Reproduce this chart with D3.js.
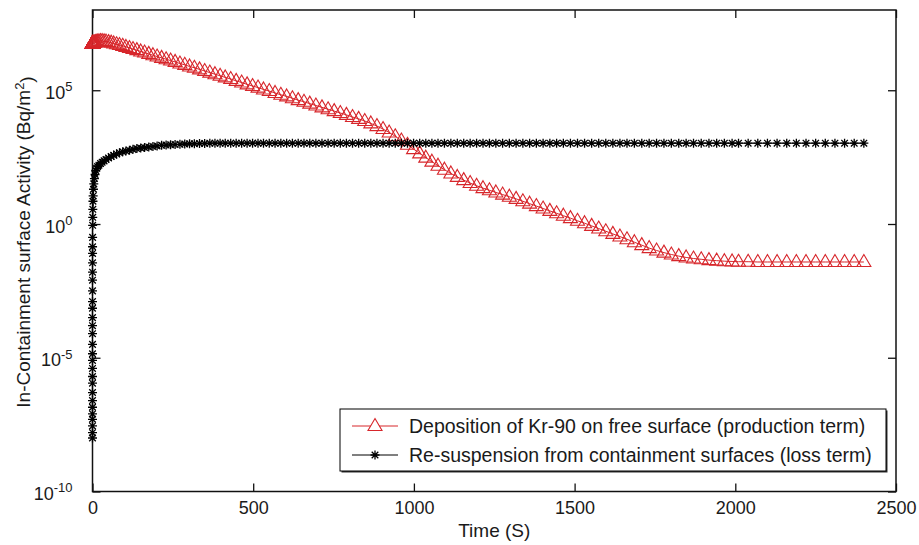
<!DOCTYPE html>
<html><head><meta charset="utf-8">
<script src="https://cdn.jsdelivr.net/npm/d3@7"></script>
<style>
html,body{margin:0;padding:0;background:#fff;}
svg{display:block;font-family:"Liberation Sans",Arial,sans-serif;}
</style></head>
<body>
<svg id="chart" width="919" height="545"></svg>
<script>
// Time (s) sample points
const times = [
  0.00001, 0.00002, 0.00004, 0.00007, 0.0001, 0.00015, 0.0002, 0.0003, 0.0005, 0.0007,
  0.001, 0.0015, 0.002, 0.003, 0.005, 0.007, 0.01, 0.015, 0.02, 0.03,
  0.05, 0.07, 0.1, 0.15, 0.2, 0.3, 0.5, 0.7, 1, 1.5,
  2, 3, 4, 6, 8, 10,
  13, 16, 20, 25, 30, 36, 42, 50, 58, 66,
  75, 84, 94, 104, 115, 126, 138, 150, 162, 175,
  188, 201, 215, 229, 243, 257, 272, 287, 302, 317,
  333, 349, 365, 381, 397, 413, 430, 447, 464, 481,
  498, 515, 532, 550, 568, 586, 604, 622, 640, 658,
  676, 695, 714, 733, 752, 771, 790, 809, 828, 847,
  866, 885, 904, 923, 942, 961, 980, 999, 1018, 1037,
  1056, 1075, 1095, 1115, 1135, 1155, 1175, 1195, 1215, 1235,
  1255, 1276, 1297, 1318, 1339, 1360, 1381, 1402, 1423, 1444,
  1465, 1487, 1509, 1531, 1553, 1575, 1597, 1619, 1641, 1663,
  1686, 1709, 1732, 1755, 1778, 1801, 1824, 1847, 1870, 1894,
  1918, 1942, 1966, 1990, 2010, 2040, 2070, 2100, 2130, 2160,
  2190, 2220, 2250, 2280, 2310, 2340, 2370, 2400
];
// log10 of activity (Bq/m^2), deposition of Kr-90 on free surface
const depositionLog10 = [
  6.75, 6.75, 6.75, 6.75, 6.75, 6.75, 6.75, 6.75, 6.75, 6.75,
  6.75, 6.75, 6.75, 6.75, 6.75, 6.75, 6.75, 6.75, 6.75, 6.75,
  6.75, 6.75, 6.75, 6.75, 6.75, 6.75, 6.75, 6.75, 6.75, 6.76,
  6.76, 6.77, 6.77, 6.78, 6.79, 6.80,
  6.81, 6.82, 6.83, 6.84, 6.84, 6.83, 6.82, 6.80, 6.78, 6.75,
  6.72, 6.69, 6.66, 6.62, 6.58, 6.54, 6.50, 6.45, 6.41, 6.36,
  6.31, 6.26, 6.21, 6.16, 6.11, 6.06, 6.00, 5.95, 5.89, 5.84,
  5.78, 5.72, 5.66, 5.60, 5.54, 5.48, 5.42, 5.35, 5.29, 5.22,
  5.16, 5.10, 5.03, 4.97, 4.90, 4.83, 4.77, 4.70, 4.63, 4.57,
  4.50, 4.43, 4.36, 4.29, 4.22, 4.15, 4.08, 4.00, 3.93, 3.85,
  3.76, 3.66, 3.55, 3.42, 3.28, 3.12, 2.96, 2.80, 2.64, 2.48,
  2.33, 2.18, 2.03, 1.89, 1.76, 1.64, 1.53, 1.43, 1.34, 1.26,
  1.18, 1.10, 1.02, 0.94, 0.85, 0.76, 0.67, 0.58, 0.49, 0.40,
  0.31, 0.22, 0.12, 0.03, -0.07, -0.17, -0.27, -0.37, -0.47, -0.57,
  -0.68, -0.79, -0.90, -0.99, -1.07, -1.14, -1.20, -1.25, -1.29, -1.32,
  -1.35, -1.37, -1.39, -1.40, -1.41, -1.41, -1.42, -1.42, -1.42, -1.42,
  -1.42, -1.42, -1.42, -1.42, -1.42, -1.42, -1.42, -1.42
];
// log10 of activity (Bq/m^2), re-suspension from containment surfaces
const resuspensionLog10 = [
  -8.0, -7.8, -7.55, -7.3, -7.1, -6.85, -6.6, -6.3, -5.95, -5.7,
  -5.4, -5.1, -4.85, -4.5, -4.1, -3.8, -3.5, -3.15, -2.9, -2.5,
  -2.1, -1.8, -1.45, -1.1, -0.85, -0.5, -0.05, 0.25, 0.55, 0.85,
  1.05, 1.3, 1.5, 1.7, 1.85, 2.0,
  2.08, 2.15, 2.20, 2.26, 2.31, 2.36, 2.41, 2.47, 2.52, 2.57,
  2.62, 2.66, 2.70, 2.73, 2.76, 2.79, 2.82, 2.84, 2.86, 2.88,
  2.90, 2.92, 2.94, 2.95, 2.96, 2.97, 2.98, 2.99, 3.00, 3.00,
  3.01, 3.01, 3.02, 3.02, 3.02, 3.02, 3.02, 3.02, 3.02, 3.02,
  3.02, 3.02, 3.02, 3.02, 3.02, 3.02, 3.02, 3.02, 3.02, 3.02,
  3.02, 3.02, 3.02, 3.02, 3.02, 3.02, 3.02, 3.02, 3.02, 3.02,
  3.02, 3.02, 3.02, 3.02, 3.02, 3.02, 3.02, 3.02, 3.02, 3.02,
  3.02, 3.02, 3.02, 3.02, 3.02, 3.02, 3.02, 3.02, 3.02, 3.02,
  3.02, 3.02, 3.02, 3.02, 3.02, 3.02, 3.02, 3.02, 3.02, 3.02,
  3.02, 3.02, 3.02, 3.02, 3.02, 3.02, 3.02, 3.02, 3.02, 3.02,
  3.02, 3.02, 3.02, 3.02, 3.02, 3.02, 3.02, 3.02, 3.02, 3.02,
  3.02, 3.02, 3.02, 3.02, 3.02, 3.02, 3.02, 3.02, 3.02, 3.02,
  3.02, 3.02, 3.02, 3.02, 3.02, 3.02, 3.02, 3.02
];
const xTicks = [0, 500, 1000, 1500, 2000, 2500];
const yTickExponents = [-10, -5, 0, 5];
const seriesNames = [
  "Deposition of Kr-90 on free surface (production term)",
  "Re-suspension from containment surfaces (loss term)"
];
const xLabel = "Time (S)";

const RED = "#d7262b";
const TXT = "#1a1a1a";
const svg = d3.select("#chart");
const L = 92.5, R = 896, T = 10, B = 491.5;
const x = d3.scaleLinear().domain([0, 2500]).range([L, R]);
const y = d3.scaleLog().domain([1e-10, 1e8]).range([B, T]);

const redData = times.map((t, i) => ({t, v: Math.pow(10, depositionLog10[i])}));
const blackData = times.map((t, i) => ({t, v: Math.pow(10, resuspensionLog10[i])}));

const axisColor = "#111";
// bottom axis
const gx = svg.append("g").attr("transform", `translate(0,${B})`)
  .call(d3.axisBottom(x).tickValues(xTicks).tickSize(-8).tickPadding(10).tickFormat(d3.format("d")));
gx.select(".domain").remove();
gx.selectAll("text").attr("font-size", 18).attr("fill", TXT).attr("font-family", "Liberation Sans, Arial, sans-serif");
gx.selectAll("line").attr("stroke", axisColor).attr("stroke-width", 1.3);
// top ticks
const gxt = svg.append("g").attr("transform", `translate(0,${T})`)
  .call(d3.axisTop(x).tickValues(xTicks).tickSize(-8).tickFormat(""));
gxt.select(".domain").remove();
gxt.selectAll("line").attr("stroke", axisColor).attr("stroke-width", 1.3);

// left axis
const gy = svg.append("g").attr("transform", `translate(${L},0)`)
  .call(d3.axisLeft(y).tickValues(yTickExponents.map(e => Math.pow(10, e))).tickSize(-8).tickFormat(""));
gy.select(".domain").remove();
gy.selectAll("line").attr("stroke", axisColor).attr("stroke-width", 1.3);
gy.selectAll(".tick").each(function(d) {
  const e = Math.round(Math.log10(d));
  const t = d3.select(this).append("text")
    .attr("x", -20).attr("y", 0).attr("dy", "0.45em")
    .attr("text-anchor", "end").attr("fill", TXT)
    .attr("font-size", 18);
  t.append("tspan").text("10");
  t.append("tspan").attr("dy", "-0.6em").attr("font-size", 13).text(String(e));
});
// right ticks
const gyr = svg.append("g").attr("transform", `translate(${R},0)`)
  .call(d3.axisRight(y).tickValues(yTickExponents.map(e => Math.pow(10, e))).tickSize(-8).tickFormat(""));
gyr.select(".domain").remove();
gyr.selectAll("line").attr("stroke", axisColor).attr("stroke-width", 1.3);

svg.append("rect").attr("x", L).attr("y", T).attr("width", R - L).attr("height", B - T)
  .attr("fill", "none").attr("stroke", axisColor).attr("stroke-width", 1.5);

// Lines
const line = d3.line().x(d => x(d.t)).y(d => y(d.v));
svg.append("path").datum(redData).attr("d", line).attr("fill", "none").attr("stroke", RED).attr("stroke-width", 1);
svg.append("path").datum(blackData).attr("d", line).attr("fill", "none").attr("stroke", "#000").attr("stroke-width", 1);

// Markers
const triPath = "M0,-7.5L7,4.5L-7,4.5Z";
const starPath = "M-4.5,0H4.5M0,-4.5V4.5M-3.3,-3.3L3.3,3.3M-3.3,3.3L3.3,-3.3";
svg.append("g").selectAll("path").data(redData).join("path")
  .attr("transform", d => `translate(${x(d.t)},${y(d.v)})`)
  .attr("d", triPath).attr("fill", "none").attr("stroke", RED).attr("stroke-width", 1.1);
svg.append("g").selectAll("path").data(blackData).join("path")
  .attr("transform", d => `translate(${x(d.t)},${y(d.v)})`)
  .attr("d", starPath).attr("fill", "none").attr("stroke", "#000").attr("stroke-width", 1.3);

// Axis labels
svg.append("text").attr("x", (L + R) / 2).attr("y", 537).attr("text-anchor", "middle")
  .attr("font-size", 19).attr("fill", TXT).text(xLabel);
const yl = svg.append("text").attr("transform", `translate(30,242) rotate(-90)`)
  .attr("text-anchor", "middle").attr("font-size", 19).attr("fill", TXT);
yl.append("tspan").text("In-Containment surface Activity (Bq/m");
yl.append("tspan").attr("dy", "-0.5em").attr("font-size", 13).text("2");
yl.append("tspan").attr("dy", "0.5em").text(")");

// Legend
const lg = svg.append("g");
const lx = 340, ly = 409, lw = 546, lh = 62;
lg.append("rect").attr("x", lx + 1.5).attr("y", ly + 1.5).attr("width", lw).attr("height", lh).attr("fill", "#333");
lg.append("rect").attr("x", lx).attr("y", ly).attr("width", lw).attr("height", lh)
  .attr("fill", "#fff").attr("stroke", "#000").attr("stroke-width", 1);
const rows = [
  {name: seriesNames[0], color: RED, mark: triPath, sw: 1.1},
  {name: seriesNames[1], color: "#000", mark: starPath, sw: 1.3}
];
rows.forEach((r, i) => {
  const cy = ly + 17 + i * 29;
  lg.append("line").attr("x1", lx + 12).attr("x2", lx + 58).attr("y1", cy).attr("y2", cy)
    .attr("stroke", r.color).attr("stroke-width", 1);
  lg.append("path").attr("transform", `translate(${lx + 35},${cy})`).attr("d", r.mark)
    .attr("fill", i === 0 ? "#fff" : "none").attr("stroke", r.color).attr("stroke-width", r.sw);
  lg.append("text").attr("x", lx + 69).attr("y", cy).attr("dy", "0.36em")
    .attr("font-size", 19.5).attr("fill", TXT).text(r.name);
});
</script>
</body></html>
